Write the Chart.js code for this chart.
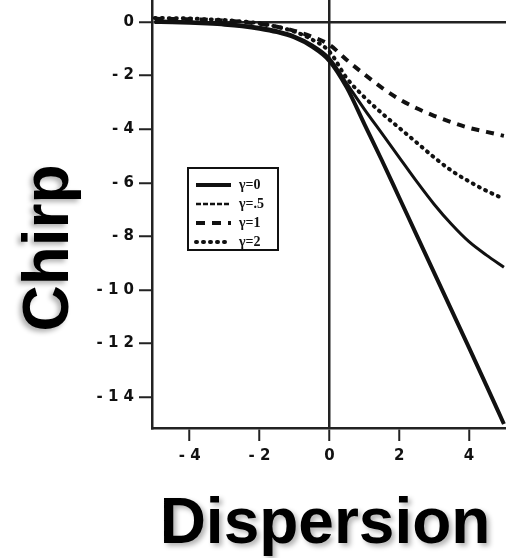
<!DOCTYPE html>
<html>
<head>
<meta charset="utf-8">
<script src="https://cdn.jsdelivr.net/npm/chart.js@4.4.1/dist/chart.umd.min.js"></script>
<style>
  html, body { margin: 0; padding: 0; background: #fff; }
  #wrap { position: relative; width: 506px; height: 558px; }
</style>
</head>
<body>
<div id="wrap"><canvas id="chirpChart" width="506" height="558"></canvas></div>
<script>
/* ---------- DATA ---------- */
const dispersion = [-5, -4.5, -4, -3.5, -3, -2.5, -2, -1.5, -1, -0.5, 0, 0.5, 1, 1.5, 2, 2.5, 3, 3.5, 4, 4.5, 5];

const chirpG0  = [0.0, -0.01, -0.03, -0.06, -0.1, -0.16, -0.25, -0.38, -0.58, -0.92, -1.45, -2.45, -3.8, -5.15, -6.55, -7.95, -9.35, -10.75, -12.15, -13.57, -15.0];
const chirpG05 = [0.04, 0.03, 0.01, -0.02, -0.06, -0.12, -0.2, -0.33, -0.53, -0.85, -1.35, -2.3, -3.25, -4.15, -5.05, -5.95, -6.8, -7.55, -8.2, -8.7, -9.15];
const chirpG1  = [0.12, 0.11, 0.1, 0.08, 0.05, 0.0, -0.07, -0.18, -0.33, -0.55, -0.85, -1.42, -1.95, -2.45, -2.88, -3.22, -3.5, -3.74, -3.95, -4.1, -4.25];
const chirpG2  = [0.15, 0.14, 0.13, 0.1, 0.07, 0.02, -0.05, -0.18, -0.36, -0.65, -1.1, -2.1, -2.8, -3.4, -3.95, -4.5, -5.05, -5.55, -5.95, -6.3, -6.6];

const seriesLabels = ["γ=0", "γ=.5", "γ=1", "γ=2"];

const xTicks      = [-4, -2, 0, 2, 4];
const xTickLabels = ["- 4", "- 2", "0", "2", "4"];
const yTicks      = [0, -2, -4, -6, -8, -10, -12, -14];
const yTickLabels = ["0", "- 2", "- 4", "- 6", "- 8", "- 1 0", "- 1 2", "- 1 4"];

/* ---------- HELPERS ---------- */
const INK = "#111";
const AXIS = "#222";
const toPoints = ys => dispersion.map((x, i) => ({ x, y: ys[i] }));

// legend sample styles (gamma=.5 reads as a fine dash in the key only)
const legendStyles = [
  { width: 4,   dash: [],     cap: "butt"  },
  { width: 2.5, dash: [5, 2], cap: "butt"  },
  { width: 4,   dash: [9, 7], cap: "butt"  },
  { width: 4,   dash: [1, 6], cap: "round" }
];

/* ---------- PLUGINS ---------- */
const boxLegend = {
  id: "boxLegend",
  afterDraw(chart) {
    const { ctx, chartArea } = chart;
    const x0 = chartArea.left + 36, y0 = chartArea.top + 168;
    ctx.save();
    ctx.strokeStyle = INK;
    ctx.lineWidth = 2;
    ctx.strokeRect(x0, y0, 90, 82);
    ctx.font = 'bold 14px "Liberation Serif"';
    ctx.fillStyle = INK;
    ctx.textBaseline = "middle";
    seriesLabels.forEach((lab, i) => {
      const y = y0 + 17 + i * 19;
      const st = legendStyles[i];
      ctx.beginPath();
      ctx.setLineDash(st.dash);
      ctx.lineCap = st.cap;
      ctx.lineWidth = st.width;
      ctx.moveTo(x0 + 8, y);
      ctx.lineTo(x0 + 43, y);
      ctx.stroke();
      ctx.setLineDash([]);
      ctx.fillText(lab, x0 + 51, y);
    });
    ctx.restore();
  }
};

const shadowTitles = {
  id: "shadowTitles",
  afterDraw(chart) {
    const { ctx, chartArea } = chart;
    ctx.save();
    ctx.font = 'bold 64px "Liberation Sans"';
    ctx.fillStyle = "#000";
    ctx.shadowColor = "rgba(0,0,0,0.3)";
    ctx.shadowBlur = 5;
    ctx.shadowOffsetX = 3;
    ctx.shadowOffsetY = 3;
    // x title
    ctx.textAlign = "center";
    ctx.textBaseline = "alphabetic";
    ctx.fillText("Dispersion", chartArea.left + 173, chartArea.bottom + 115);
    // y title (rotated)
    ctx.translate(chartArea.left - 84, chartArea.top + 248);
    ctx.rotate(-Math.PI / 2);
    ctx.shadowOffsetX = -3;
    ctx.shadowOffsetY = 3;
    ctx.fillText("Chirp", 0, 0);
    ctx.restore();
  }
};

/* ---------- CHART ---------- */
const lineBase = { pointRadius: 0, fill: false, borderColor: INK, cubicInterpolationMode: "monotone" };

const tickFont = { family: '"DejaVu Sans"', size: 15, weight: "bold" };
const gridOpts = {
  drawOnChartArea: true,
  color: c => (c.tick && c.tick.value === 0) ? AXIS : "rgba(0,0,0,0)",
  lineWidth: 2.5,
  tickColor: AXIS,
  tickWidth: 2,
  tickLength: 13
};

new Chart(document.getElementById("chirpChart"), {
  type: "line",
  data: {
    datasets: [
      { ...lineBase, label: seriesLabels[0], data: toPoints(chirpG0),  borderWidth: 4 },
      { ...lineBase, label: seriesLabels[1], data: toPoints(chirpG05), borderWidth: 3 },
      { ...lineBase, label: seriesLabels[2], data: toPoints(chirpG1),  borderWidth: 4, borderDash: [8, 7] },
      { ...lineBase, label: seriesLabels[3], data: toPoints(chirpG2),  borderWidth: 4, borderDash: [1, 6], borderCapStyle: "round" }
    ]
  },
  options: {
    responsive: false,
    animation: false,
    layout: { padding: 0 },
    plugins: { legend: { display: false }, tooltip: { enabled: false } },
    scales: {
      x: {
        type: "linear",
        min: -5.08, max: 5.06,
        afterFit: s => { s.height = 130; s.paddingLeft = 0; s.paddingRight = 0; },
        afterBuildTicks: s => { s.ticks = xTicks.map(v => ({ value: v })); },
        ticks: {
          color: INK, font: tickFont, padding: 6,
          callback: v => xTickLabels[xTicks.indexOf(v)] ?? ""
        },
        grid: gridOpts,
        border: { display: true, color: AXIS, width: 2.5 }
      },
      y: {
        type: "linear",
        min: -15.15, max: 0.82,
        afterFit: s => { s.width = 152; s.paddingTop = 0; s.paddingBottom = 0; },
        afterBuildTicks: s => { s.ticks = yTicks.map(v => ({ value: v })); },
        ticks: {
          color: INK, font: tickFont, padding: 5,
          callback: v => yTickLabels[yTicks.indexOf(v)] ?? ""
        },
        grid: gridOpts,
        border: { display: true, color: AXIS, width: 2.5 }
      }
    }
  },
  plugins: [boxLegend, shadowTitles]
});
</script>
</body>
</html>
